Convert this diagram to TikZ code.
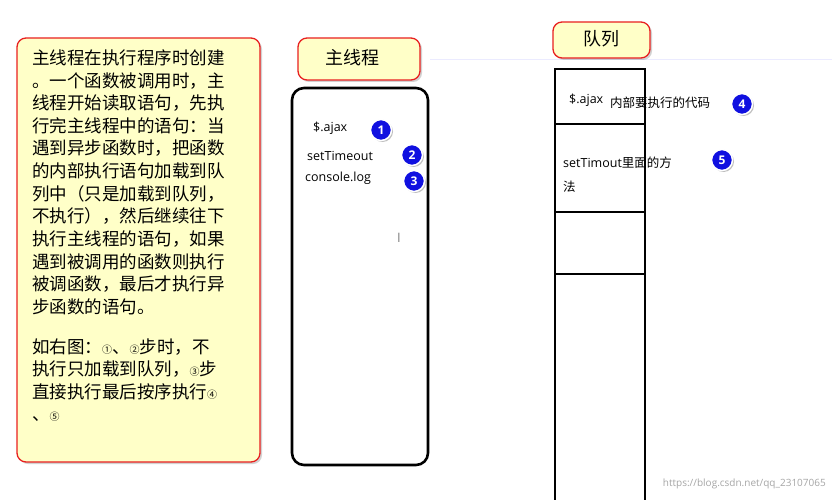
\documentclass[tikz,border=0pt]{standalone}
\usepackage{fontspec}
\setmainfont{Noto Sans CJK SC}
\newfontfamily\cjk{Noto Sans CJK SC}
\newfontfamily\lat{Open Sans}
\usetikzlibrary{shadows}
\definecolor{noteyel}{HTML}{FFFFC8}
\definecolor{notered}{HTML}{E82020}
\definecolor{numblue}{HTML}{1010E0}
\begin{document}
\begin{tikzpicture}[x=1pt,y=-1pt,
  note/.style={draw=notered,line width=1.3pt,fill=noteyel,rounded corners=9pt,drop shadow={opacity=0.35,shadow xshift=2pt,shadow yshift=-2pt}},
  ln/.style={anchor=west,inner sep=0,font=\cjk\fontsize{17.5}{20}\selectfont},
  code/.style={anchor=west,inner sep=0,font=\lat\fontsize{12.5}{14}\selectfont},
  num/.style={circle,fill=numblue,draw=white,line width=1.5pt,inner sep=0,minimum size=21pt,text=white,font=\lat\bfseries\fontsize{12}{12}\selectfont,drop shadow={opacity=0.5,shadow xshift=1.5pt,shadow yshift=-1.5pt}}]
\useasboundingbox (0,0) rectangle (832,500);
\fill[white] (0,0) rectangle (832,500);
\draw[blue!8,line width=1pt] (430,60) -- (832,60);
% left note
\draw[note] (17,38) rectangle (260,462);
\foreach \t [count=\i] in {主线程在执行程序时创建,。一个函数被调用时，主,线程开始读取语句，先执,行完主线程中的语句：当,遇到异步函数时，把函数,的内部执行语句加载到队,列中（只是加载到队列，,不执行），然后继续往下,执行主线程的语句，如果,遇到被调用的函数则执行,被调函数，最后才执行异,步函数的语句。}
  \node[ln] (l\i) at (32,{35.4+22.6*\i}) {\t};
\node[ln] (m1) at (32,347) {如右图：{\fontsize{10}{10}\selectfont ①}、{\fontsize{10}{10}\selectfont ②}步时，不};
\node[ln] (m2) at (32,369) {执行只加载到队列，{\fontsize{10}{10}\selectfont ③}步};
\node[ln] (m3) at (32,392) {直接执行最后按序执行{\fontsize{10}{10}\selectfont ④}};
\node[ln] (m4) at (32,417) {、{\fontsize{10}{10}\selectfont ⑤}};
% main thread
\draw[note] (298,38) rectangle (420,80);
\node[font=\cjk\fontsize{18}{20}\selectfont] (mt) at (352,58) {主线程};
\draw[line width=2.6pt,rounded corners=12pt] (292,88) rectangle (428,465);
\node[code] (c1) at (313,128) {\$.ajax};
\node[num] (n1) at (381,130) {1};
\node[code] (c2) at (307,156) {setTimeout};
\node[num] (n2) at (412,155) {2};
\node[code] (c3) at (305,178) {console.log};
\node[num] (n3) at (414,181) {3};
\node[font=\lat\fontsize{13}{13}\selectfont,text=gray] (cur) at (399,238) {I};
% queue
\draw[note] (553,22) rectangle (650,58);
\node[font=\cjk\fontsize{18}{20}\selectfont] (q) at (601,39) {队列};
\draw[line width=2.6pt] (555,69) -- (555,502) (645,69) -- (645,502) (554,69) -- (646,69);
\draw[line width=2.6pt] (555,124) -- (645,124) (555,212) -- (645,212) (555,274) -- (645,274);
\node[code] (q1) at (569,100) {\$.ajax};
\node[anchor=west,inner sep=0,font=\cjk\fontsize{12.5}{14}\selectfont] (q1b) at (610,103) {内部要执行的代码};
\node[num] (n4) at (742,104) {4};
\node[anchor=west,inner sep=0,font=\lat\fontsize{12.5}{14}\selectfont] (q2) at (563,163) {setTimout{\cjk 里面的方}};
\node[anchor=west,inner sep=0,font=\cjk\fontsize{12.5}{14}\selectfont] (q2b) at (563,187) {法};
\node[num] (n5) at (722,160) {5};
\node[anchor=east,inner sep=0,font=\lat\fontsize{10}{10}\selectfont,text=gray!70] (wm) at (826,484) {https://blog.csdn.net/qq\_23107065};
\end{tikzpicture}
\end{document}
